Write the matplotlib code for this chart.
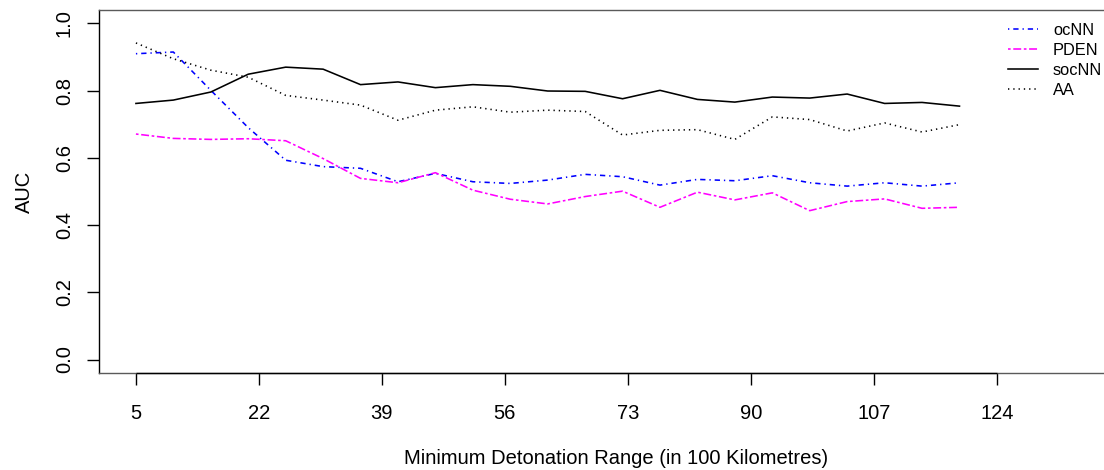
import matplotlib
matplotlib.use("Agg")
import matplotlib.pyplot as plt

plt.rcParams['font.family'] = ['Liberation Sans', 'DejaVu Sans']
plt.rcParams['lines.scale_dashes'] = False

# detonation ranges (23 evenly spaced runs between 5 and 124)
ranges = [5.00, 10.17, 15.35, 20.52, 25.70, 30.87, 36.04, 41.22, 46.39, 51.57,
          56.74, 61.91, 67.09, 72.26, 77.43, 82.61, 87.78, 92.96, 98.13, 103.30,
          108.48, 113.65, 118.83]

ocnn = [0.910, 0.915, 0.801, 0.690, 0.593, 0.574, 0.569, 0.529, 0.554, 0.529,
        0.524, 0.534, 0.551, 0.544, 0.519, 0.536, 0.532, 0.547, 0.526, 0.516,
        0.526, 0.516, 0.526]
pden = [0.671, 0.658, 0.655, 0.657, 0.651, 0.598, 0.539, 0.526, 0.556, 0.504,
        0.477, 0.463, 0.485, 0.501, 0.453, 0.498, 0.475, 0.496, 0.443, 0.470,
        0.478, 0.450, 0.453]
socnn = [0.762, 0.772, 0.796, 0.849, 0.870, 0.864, 0.818, 0.826, 0.809, 0.818,
         0.813, 0.799, 0.798, 0.776, 0.801, 0.774, 0.766, 0.781, 0.778, 0.790,
         0.762, 0.765, 0.754]
aa = [0.942, 0.895, 0.861, 0.840, 0.786, 0.772, 0.757, 0.712, 0.742, 0.752,
      0.736, 0.742, 0.738, 0.668, 0.682, 0.684, 0.655, 0.722, 0.714, 0.680,
      0.704, 0.677, 0.699]

x_ticks = [5, 22, 39, 56, 73, 90, 107, 124]
y_ticks = [0.0, 0.2, 0.4, 0.6, 0.8, 1.0]

# R-style line types, lengths in points
dotdash = (0, (0.95, 2.85, 3.8, 2.85))
twodash = (0, (1.9, 1.9, 5.7, 1.9))
dotted = (0, (0.95, 2.85))

fig = plt.figure(figsize=(11.04, 4.70), dpi=100)
ax = fig.add_axes([0.0899, 0.2064, 0.9363, 0.7723])

lw = 1.15
ax.plot(ranges, ocnn, color="blue", lw=lw, linestyle=dotdash, label="ocNN")
ax.plot(ranges, pden, color="magenta", lw=lw, linestyle=twodash, label="PDEN")
ax.plot(ranges, socnn, color="black", lw=lw, linestyle="-", label="socNN")
ax.plot(ranges, aa, color="black", lw=lw, linestyle=dotted, label="AA")

xlim = (-0.07, 142.8)
ylim = (-0.04, 1.04)
ax.set_xlim(xlim)
ax.set_ylim(ylim)

# box in grey, axis lines in black over the tick span
for side in ["top", "bottom", "right"]:
    ax.spines[side].set_color("#5a5a5a")
    ax.spines[side].set_linewidth(1.0)
ax.spines["left"].set_color("black")
ax.spines["left"].set_linewidth(1.0)
ax.hlines(ylim[0], x_ticks[0], x_ticks[-1], color="black", lw=1.0, clip_on=False, zorder=5)

ax.set_xticks(x_ticks)
ax.set_xticklabels([str(t) for t in x_ticks])
ax.set_yticks(y_ticks)
ax.set_yticklabels([f"{t:.1f}" for t in y_ticks], rotation=90, va="center")
ax.tick_params(axis="both", direction="out", length=8.3, width=1.0, color="black",
               labelsize=14.5, labelcolor="black")
ax.tick_params(axis="x", pad=14)
ax.tick_params(axis="y", pad=10)

ax.set_xlabel("Minimum Detonation Range (in 100 Kilometres)", fontsize=14.5, labelpad=19)
ax.set_ylabel("AUC", fontsize=14.5, labelpad=15)

ax.legend(loc="upper left", bbox_to_anchor=(0.913, 0.951), bbox_transform=fig.transFigure,
          frameon=False, fontsize=11.75, borderpad=0, borderaxespad=0,
          handlelength=1.84, handletextpad=0.92, labelspacing=0.30)

fig.savefig("out.png", dpi=100)
